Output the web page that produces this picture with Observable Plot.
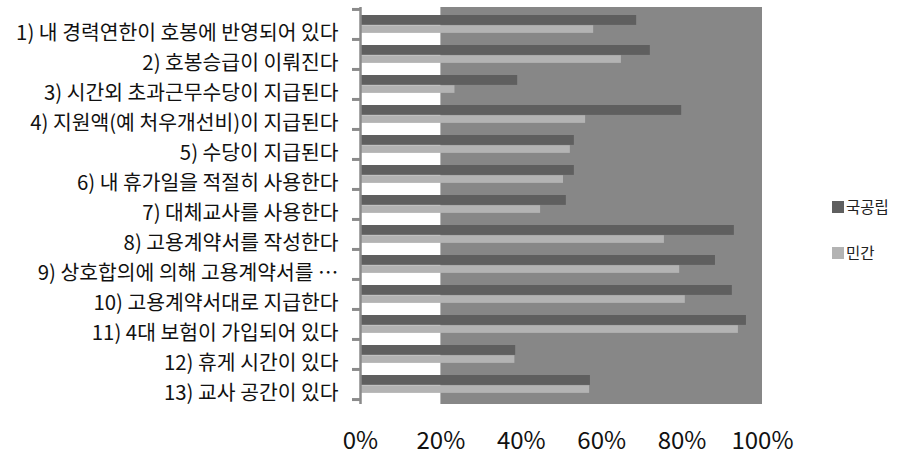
<!DOCTYPE html>
<html><head><meta charset="utf-8">
<script src="https://cdn.jsdelivr.net/npm/d3@7"></script>
<script src="https://cdn.jsdelivr.net/npm/@observablehq/plot@0.6"></script>
<style>
body{margin:0;background:#fff;}
#wrap{position:relative;width:898px;height:460px;font-family:"Noto Sans CJK KR",sans-serif;}
.leg{position:absolute;left:832px;display:flex;align-items:center;font-size:15.5px;color:#222;line-height:1}
.leg .sw{width:12px;height:12px;display:inline-block;margin-right:2px}
</style></head><body><div id="wrap"></div>
<script>
const categories = [
  "1) 내 경력연한이 호봉에 반영되어 있다",
  "2) 호봉승급이 이뤄진다",
  "3) 시간외 초과근무수당이 지급된다",
  "4) 지원액(예 처우개선비)이 지급된다",
  "5) 수당이 지급된다",
  "6) 내 휴가일을 적절히 사용한다",
  "7) 대체교사를 사용한다",
  "8) 고용계약서를 작성한다",
  "9) 상호합의에 의해 고용계약서를 …",
  "10) 고용계약서대로 지급한다",
  "11) 4대 보험이 가입되어 있다",
  "12) 휴게 시간이 있다",
  "13) 교사 공간이 있다"
];
const publicValues  = [68.7, 72.1, 39.1, 79.9, 53.2, 53.2, 51.2, 93.0, 88.3, 92.5, 96.0, 38.6, 57.2];
const privateValues = [58.0, 64.9, 23.5, 56.0, 52.2, 50.5, 44.8, 75.6, 79.4, 80.8, 94.0, 38.4, 57.0];
const seriesNames = ["국공립", "민간"];
const seriesColors = ["#5f5f5f", "#b3b3b3"];
const xTicks = [0, 20, 40, 60, 80, 100];
const shadedRange = [20, 100];

const rows = [];
categories.forEach((c, i) => {
  rows.push({category: c, series: seriesNames[0], value: publicValues[i]});
  rows.push({category: c, series: seriesNames[1], value: privateValues[i]});
});

const W = 898, H = 460, mt = 7, mb = 56, ml = 360, mr = 136;
const yInTop = 1, yInBottom = 4.5;
const bw = (H - mt - mb - yInTop - yInBottom) / categories.length;
const axisGray = "#8a8a8a";

const chart = Plot.plot({
  width: W, height: H,
  marginTop: mt, marginBottom: mb, marginLeft: ml, marginRight: mr,
  style: {fontFamily: '"Noto Sans CJK KR", sans-serif', background: "#fff", color: "#111"},
  x: {domain: [0, 100], label: null},
  y: {domain: categories, padding: 0, insetTop: yInTop, insetBottom: yInBottom, label: null},
  color: {domain: seriesNames, range: seriesColors},
  marks: [
    Plot.rect([shadedRange], {x1: d => d[0], x2: d => d[1], fill: "#878787"}),
    Plot.barX(rows.filter(d => d.series === seriesNames[0]), {
      x: "value", y: "category", fill: "series", insetTop: 6, insetBottom: bw - 16
    }),
    Plot.barX(rows.filter(d => d.series === seriesNames[1]), {
      x: "value", y: "category", fill: "series", insetTop: 16.2, insetBottom: bw - 24
    }),
    Plot.ruleX([0], {stroke: axisGray, strokeWidth: 2.5}),
    Plot.axisY({tickSize: 8, tickFormat: () => "", stroke: axisGray, strokeWidth: 3, dy: -bw / 2, label: null}),
    Plot.axisY({ticks: [categories[categories.length - 1]], tickSize: 8, tickFormat: () => "", stroke: axisGray, strokeWidth: 3, dy: bw / 2, label: null}),
    Plot.axisY({tickSize: 0, tickPadding: 22, fontSize: 20.4, dy: 9, fill: "#111", label: null}),
    Plot.axisX({ticks: xTicks, tickFormat: d => d + "%", tickSize: 0, tickPadding: 27, fontSize: 24, fill: "#111", label: null})
  ]
});
const wrap = document.getElementById("wrap");
wrap.appendChild(chart);

const legTops = [199, 245];
seriesNames.forEach((s, i) => {
  const d = document.createElement("div");
  d.className = "leg";
  d.style.top = legTops[i] + "px";
  d.innerHTML = `<span class="sw" style="background:${seriesColors[i]}"></span><span>${s}</span>`;
  wrap.appendChild(d);
});
</script>
</body></html>
